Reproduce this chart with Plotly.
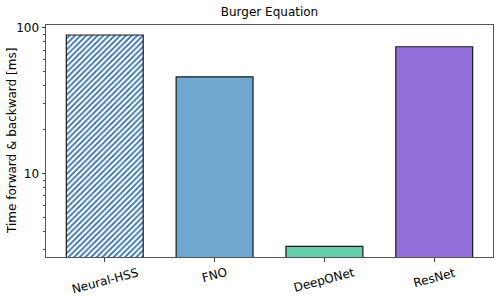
import plotly.graph_objects as go
import math

models = ["Neural-HSS", "FNO", "DeepONet", "ResNet"]
times_ms = [88.8, 45.9, 3.16, 73.8]
colors = ["#2f6eaa", "#6fa8cf", "#66cdaa", "#9370db"]
patterns = ["/", "", "", ""]
y_ticks = [10, 100]
minor_ticks = [3, 4, 5, 6, 7, 8, 9, 20, 30, 40, 50, 60, 70, 80, 90]
y_title = "Time forward & backward [ms]"

fig = go.Figure()
fig.add_trace(go.Bar(
    x=models, y=times_ms, width=0.7,
    marker=dict(color=colors,
                line=dict(color="#1a1a1a", width=1.2),
                pattern=dict(shape=patterns, fillmode="replace", bgcolor=colors,
                             fgcolor="#000000", fgopacity=1, size=4, solidity=0.45)),
))

# x tick labels, rotated 15 degrees and centred under each tick
for m in models:
    fig.add_annotation(x=m, y=0, xref="x", yref="paper", text=m, showarrow=False,
                       textangle=-15, xanchor="center", yanchor="top", yshift=-6,
                       font=dict(family="DejaVu Sans", size=12, color="black"))

# y axis title
fig.add_annotation(x=0, y=0.5, xref="paper", yref="paper", text=y_title, showarrow=False,
                   textangle=-90, xanchor="center", yanchor="middle", xshift=-34,
                   font=dict(family="DejaVu Sans", size=12, color="black"))

fig.update_layout(
    width=498, height=297,
    margin=dict(l=46, r=5, t=25, b=40, autoexpand=False),
    paper_bgcolor="white", plot_bgcolor="white",
    font=dict(family="DejaVu Sans", size=12, color="black"),
    title=dict(text="Burger Equation", x=(46 + 493) / 2 / 498, xanchor="center",
               y=1 - 12 / 297, yanchor="middle", font=dict(size=12)),
    showlegend=False,
    bargap=0.3,
)
fig.update_xaxes(
    range=[-0.535, 3.535], ticks="outside", ticklen=3.5, showticklabels=False,
    tickcolor="#444", showline=True, linecolor="#555", linewidth=1, mirror=True,
    showgrid=False, automargin=False,
)
fig.update_yaxes(
    type="log", range=[math.log10(2.67), math.log10(104)],
    tickmode="array", tickvals=y_ticks, ticktext=[str(v) for v in y_ticks],
    ticks="outside", ticklen=3.5, tickcolor="#444",
    minor=dict(tickmode="array", tickvals=minor_ticks, ticks="outside", ticklen=2, tickcolor="#444", showgrid=False),
    showline=True, linecolor="#555", linewidth=1, mirror=True, showgrid=False,
    tickfont=dict(size=12), automargin=False,
)

fig.write_html("out.html", config={"displayModeBar": False},
               post_script="document.body.style.margin='0';document.body.style.overflow='hidden';")
